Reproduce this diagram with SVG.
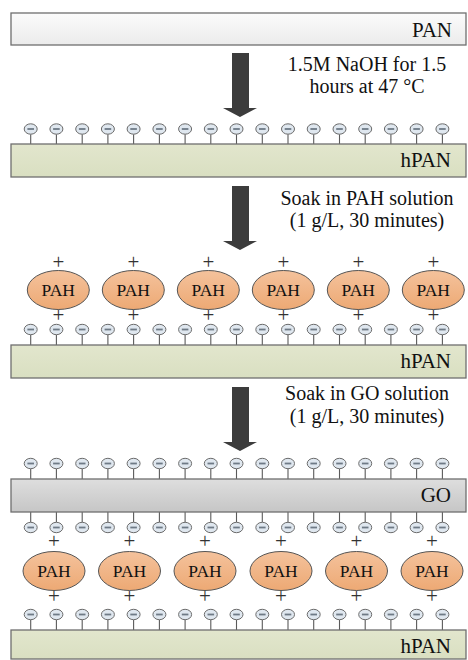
<svg xmlns="http://www.w3.org/2000/svg" xmlns:xlink="http://www.w3.org/1999/xlink" width="468" height="660" viewBox="0 0 468 660">
<defs>
<linearGradient id="gPan" x1="0" y1="0" x2="0" y2="1"><stop offset="0" stop-color="#fbfbfb"/><stop offset="1" stop-color="#ebebeb"/></linearGradient>
<linearGradient id="gH" x1="0" y1="0" x2="0" y2="1"><stop offset="0" stop-color="#e2e6cd"/><stop offset="1" stop-color="#d9dfc1"/></linearGradient>
<linearGradient id="gGo" x1="0" y1="0" x2="0" y2="1"><stop offset="0" stop-color="#dedede"/><stop offset="1" stop-color="#c6c6c6"/></linearGradient>
<linearGradient id="gPah" x1="0" y1="0" x2="0" y2="1"><stop offset="0" stop-color="#f4c29c"/><stop offset="1" stop-color="#eda974"/></linearGradient>
<g id="neg"><ellipse cx="0" cy="0" rx="6.5" ry="5.2" fill="#dfe7ef" stroke="#6b6b6b" stroke-width="1"/><line x1="-3.3" y1="0" x2="3.3" y2="0" stroke="#6e7a86" stroke-width="1.8"/></g>
<g id="negD"><line x1="0" y1="5.2" x2="0" y2="15.5" stroke="#5a5a5a" stroke-width="1.1"/><use xlink:href="#neg"/></g>
<g id="negU"><line x1="0" y1="-5.2" x2="0" y2="-15.5" stroke="#5a5a5a" stroke-width="1.1"/><use xlink:href="#neg"/></g>
<g id="pah"><ellipse cx="0" cy="0" rx="31" ry="19.5" fill="url(#gPah)" stroke="#555" stroke-width="1"/><text x="0" y="6" class="pt">PAH</text></g>
</defs>
<style>
.bar{stroke:#6f6f6f;stroke-width:1.3}
.lbl{font-family:"Liberation Serif","Times New Roman",serif;font-size:21px;fill:#111;text-anchor:end}
.st{font-family:"Liberation Serif","Times New Roman",serif;font-size:20px;fill:#111;text-anchor:middle}
.pt{font-family:"Liberation Serif","Times New Roman",serif;font-size:17.5px;fill:#111;text-anchor:middle}
.pl{font-family:"Liberation Serif","Times New Roman",serif;font-size:21px;fill:#333;text-anchor:middle}
.arr{fill:#3c3c3c}
</style>

<g id="pan"><rect x="11" y="13" width="455" height="32" fill="url(#gPan)" class="bar"/><text x="452" y="36.5" class="lbl">PAN</text></g>

<g id="connectors">
<polygon class="arr" points="232,53 249,53 249,108 257,108 240,117 223,108 232,108"/>
<polygon class="arr" points="232,186 249,186 249,241 257,241 240,250 223,241 232,241"/>
<polygon class="arr" points="232,387 249,387 249,442 257,442 240,451 223,442 232,442"/>
</g>

<g id="step1"><text x="367" y="70.5" class="st">1.5M NaOH for 1.5</text><text x="367" y="92.5" class="st">hours at 47 °C</text></g>
<g id="step2"><text x="367" y="205" class="st">Soak in PAH solution</text><text x="367" y="227" class="st">(1 g/L, 30 minutes)</text></g>
<g id="step3"><text x="367" y="400" class="st">Soak in GO solution</text><text x="367" y="423" class="st">(1 g/L, 30 minutes)</text></g>

<g id="charges1">
<use xlink:href="#negD" x="30.7" y="129"/><use xlink:href="#negD" x="56.4" y="129"/><use xlink:href="#negD" x="82.2" y="129"/><use xlink:href="#negD" x="107.9" y="129"/><use xlink:href="#negD" x="133.6" y="129"/><use xlink:href="#negD" x="159.4" y="129"/><use xlink:href="#negD" x="185.1" y="129"/><use xlink:href="#negD" x="210.8" y="129"/><use xlink:href="#negD" x="236.5" y="129"/><use xlink:href="#negD" x="262.3" y="129"/><use xlink:href="#negD" x="288" y="129"/><use xlink:href="#negD" x="313.7" y="129"/><use xlink:href="#negD" x="339.5" y="129"/><use xlink:href="#negD" x="365.2" y="129"/><use xlink:href="#negD" x="390.9" y="129"/><use xlink:href="#negD" x="416.6" y="129"/><use xlink:href="#negD" x="442.4" y="129"/>
</g>
<g id="hpan1"><rect x="11" y="144" width="455" height="33" fill="url(#gH)" class="bar"/><text x="451" y="167" class="lbl">hPAN</text></g>

<g id="pahLayer1">
<use xlink:href="#pah" x="58.3" y="290"/><use xlink:href="#pah" x="133.3" y="290"/><use xlink:href="#pah" x="208.3" y="290"/><use xlink:href="#pah" x="283.3" y="290"/><use xlink:href="#pah" x="358.3" y="290"/><use xlink:href="#pah" x="433.3" y="290"/>
<text class="pl" x="58.3" y="269.3">+</text><text class="pl" x="133.3" y="269.3">+</text><text class="pl" x="208.3" y="269.3">+</text><text class="pl" x="283.3" y="269.3">+</text><text class="pl" x="358.3" y="269.3">+</text><text class="pl" x="433.3" y="269.3">+</text>
<text class="pl" x="58.3" y="322">+</text><text class="pl" x="133.3" y="322">+</text><text class="pl" x="208.3" y="322">+</text><text class="pl" x="283.3" y="322">+</text><text class="pl" x="358.3" y="322">+</text><text class="pl" x="433.3" y="322">+</text>
</g>
<g id="charges2">
<use xlink:href="#negD" x="30.7" y="329.5"/><use xlink:href="#negD" x="56.4" y="329.5"/><use xlink:href="#negD" x="82.2" y="329.5"/><use xlink:href="#negD" x="107.9" y="329.5"/><use xlink:href="#negD" x="133.6" y="329.5"/><use xlink:href="#negD" x="159.4" y="329.5"/><use xlink:href="#negD" x="185.1" y="329.5"/><use xlink:href="#negD" x="210.8" y="329.5"/><use xlink:href="#negD" x="236.5" y="329.5"/><use xlink:href="#negD" x="262.3" y="329.5"/><use xlink:href="#negD" x="288" y="329.5"/><use xlink:href="#negD" x="313.7" y="329.5"/><use xlink:href="#negD" x="339.5" y="329.5"/><use xlink:href="#negD" x="365.2" y="329.5"/><use xlink:href="#negD" x="390.9" y="329.5"/><use xlink:href="#negD" x="416.6" y="329.5"/><use xlink:href="#negD" x="442.4" y="329.5"/>
</g>
<g id="hpan2"><rect x="11" y="345" width="455" height="33" fill="url(#gH)" class="bar"/><text x="451" y="368" class="lbl">hPAN</text></g>

<g id="charges3">
<use xlink:href="#negD" x="30.7" y="463.5"/><use xlink:href="#negD" x="56.4" y="463.5"/><use xlink:href="#negD" x="82.2" y="463.5"/><use xlink:href="#negD" x="107.9" y="463.5"/><use xlink:href="#negD" x="133.6" y="463.5"/><use xlink:href="#negD" x="159.4" y="463.5"/><use xlink:href="#negD" x="185.1" y="463.5"/><use xlink:href="#negD" x="210.8" y="463.5"/><use xlink:href="#negD" x="236.5" y="463.5"/><use xlink:href="#negD" x="262.3" y="463.5"/><use xlink:href="#negD" x="288" y="463.5"/><use xlink:href="#negD" x="313.7" y="463.5"/><use xlink:href="#negD" x="339.5" y="463.5"/><use xlink:href="#negD" x="365.2" y="463.5"/><use xlink:href="#negD" x="390.9" y="463.5"/><use xlink:href="#negD" x="416.6" y="463.5"/><use xlink:href="#negD" x="442.4" y="463.5"/>
</g>
<g id="charges4">
<use xlink:href="#negU" x="30.7" y="527.5"/><use xlink:href="#negU" x="56.4" y="527.5"/><use xlink:href="#negU" x="82.2" y="527.5"/><use xlink:href="#negU" x="107.9" y="527.5"/><use xlink:href="#negU" x="133.6" y="527.5"/><use xlink:href="#negU" x="159.4" y="527.5"/><use xlink:href="#negU" x="185.1" y="527.5"/><use xlink:href="#negU" x="210.8" y="527.5"/><use xlink:href="#negU" x="236.5" y="527.5"/><use xlink:href="#negU" x="262.3" y="527.5"/><use xlink:href="#negU" x="288" y="527.5"/><use xlink:href="#negU" x="313.7" y="527.5"/><use xlink:href="#negU" x="339.5" y="527.5"/><use xlink:href="#negU" x="365.2" y="527.5"/><use xlink:href="#negU" x="390.9" y="527.5"/><use xlink:href="#negU" x="416.6" y="527.5"/><use xlink:href="#negU" x="442.4" y="527.5"/>
</g>
<g id="go"><rect x="11" y="479" width="455" height="33" fill="url(#gGo)" class="bar"/><text x="451" y="502" class="lbl">GO</text></g>

<g id="pahLayer2">
<use xlink:href="#pah" x="54" y="571"/><use xlink:href="#pah" x="129.5" y="571"/><use xlink:href="#pah" x="205" y="571"/><use xlink:href="#pah" x="281" y="571"/><use xlink:href="#pah" x="356.5" y="571"/><use xlink:href="#pah" x="432" y="571"/>
<text class="pl" x="54" y="548.3">+</text><text class="pl" x="129.5" y="548.3">+</text><text class="pl" x="205" y="548.3">+</text><text class="pl" x="281" y="548.3">+</text><text class="pl" x="356.5" y="548.3">+</text><text class="pl" x="432" y="548.3">+</text>
<text class="pl" x="54" y="603.3">+</text><text class="pl" x="129.5" y="603.3">+</text><text class="pl" x="205" y="603.3">+</text><text class="pl" x="281" y="603.3">+</text><text class="pl" x="356.5" y="603.3">+</text><text class="pl" x="432" y="603.3">+</text>
</g>
<g id="charges5">
<use xlink:href="#negD" x="30.7" y="614.5"/><use xlink:href="#negD" x="56.4" y="614.5"/><use xlink:href="#negD" x="82.2" y="614.5"/><use xlink:href="#negD" x="107.9" y="614.5"/><use xlink:href="#negD" x="133.6" y="614.5"/><use xlink:href="#negD" x="159.4" y="614.5"/><use xlink:href="#negD" x="185.1" y="614.5"/><use xlink:href="#negD" x="210.8" y="614.5"/><use xlink:href="#negD" x="236.5" y="614.5"/><use xlink:href="#negD" x="262.3" y="614.5"/><use xlink:href="#negD" x="288" y="614.5"/><use xlink:href="#negD" x="313.7" y="614.5"/><use xlink:href="#negD" x="339.5" y="614.5"/><use xlink:href="#negD" x="365.2" y="614.5"/><use xlink:href="#negD" x="390.9" y="614.5"/><use xlink:href="#negD" x="416.6" y="614.5"/><use xlink:href="#negD" x="442.4" y="614.5"/>
</g>
<g id="hpan3"><rect x="11" y="630" width="455" height="29" fill="url(#gH)" class="bar"/><text x="451" y="653" class="lbl">hPAN</text></g>
</svg>
